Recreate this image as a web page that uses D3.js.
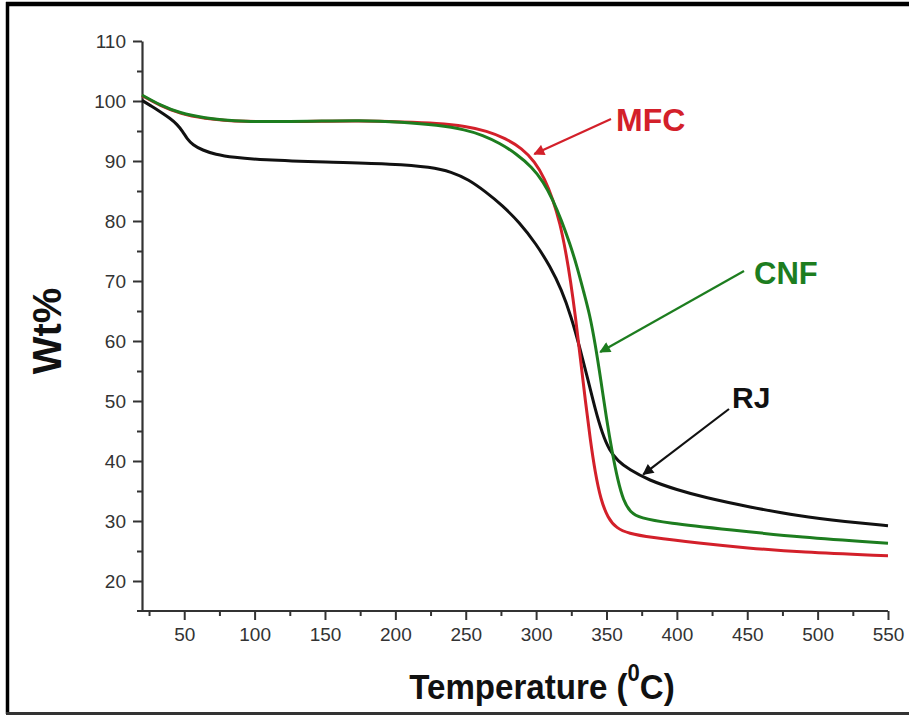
<!DOCTYPE html>
<html>
<head>
<meta charset="utf-8">
<script src="https://cdn.jsdelivr.net/npm/d3@7"></script>
<style>
  body { margin: 0; background: #fff; }
  svg { display: block; }
</style>
</head>
<body>
<div id="chart"></div>
<script>
// TGA curves: temperature (°C) vs residual weight (%)
var rjData = [
  [20, 100.1], [27, 99.1], [33, 98.2], [40, 97.1], [45, 96.1], [49, 94.9], [52, 93.7],
  [56, 92.7], [63, 91.8], [72, 91.1], [85, 90.6], [104, 90.2], [150, 89.8],
  [200, 89.5], [225, 89], [240, 88.2], [252, 86.9], [264, 84.9], [276, 82.6],
  [288, 79.8], [300, 76.2], [310, 72.4], [318, 68.6], [325, 64], [331, 58.9],
  [337, 53.4], [342, 48.6], [347, 44.6], [352, 41.8], [358, 40], [366, 38.6],
  [380, 36.8], [400, 35.2], [420, 33.9], [450, 32.4], [487, 30.8], [520, 29.9], [550, 29.2]
];
var mfcData = [
  [20, 100.9], [33, 99.2], [47, 97.9], [63, 97.1], [90, 96.5], [140, 96.6], [175, 96.7],
  [205, 96.5], [230, 96.3], [250, 95.8], [265, 95], [278, 93.8], [290, 92.1],
  [299, 89.9], [306, 87.1], [312, 83.6], [317, 79.6], [321, 75], [324.5, 70],
  [328, 64], [331.5, 57], [335, 50], [338.5, 43.5], [342, 38], [346, 33.5],
  [351, 30.5], [357, 28.8], [366, 27.9], [380, 27.3], [416, 26.3], [450, 25.5],
  [487, 24.8], [550, 24.2]
];
var cnfData = [
  [20, 101], [33, 99.3], [47, 98], [63, 97.2], [90, 96.5], [140, 96.6], [175, 96.8],
  [205, 96.5], [230, 96], [250, 95.2], [262, 94.3], [274, 93], [286, 91.2],
  [297, 89], [305, 86.6], [312, 83.5], [318, 80.1], [324, 76.2], [329, 72.5],
  [334, 68], [338, 64.5], [342, 59.5], [346, 53.5], [350, 47], [354, 41.5],
  [358, 36.8], [362, 33.4], [367, 31.4], [374, 30.5], [392, 29.7], [439, 28.5],
  [487, 27.3], [550, 26.3]
];

var xTicks = [50, 100, 150, 200, 250, 300, 350, 400, 450, 500, 550];
var xMinor = [25, 75, 125, 175, 225, 275, 325, 375, 425, 475, 525];
var yTicks = [20, 30, 40, 50, 60, 70, 80, 90, 100, 110];
var yMinor = [25, 35, 45, 55, 65, 75, 85, 95, 105];

var width = 909, height = 715;

var x = d3.scaleLinear().domain([20, 550]).range([142, 888]);
var y = d3.scaleLinear().domain([15, 110]).range([611, 41]);

var svg = d3.select("#chart").append("svg")
  .attr("width", width)
  .attr("height", height);

svg.append("rect").attr("width", width).attr("height", height).attr("fill", "#fff");

// frame
svg.append("line").attr("x1", 6).attr("x2", width).attr("y1", 4).attr("y2", 4)
  .attr("stroke", "#000").attr("stroke-width", 4.5);
svg.append("line").attr("x1", 7.5).attr("x2", 7.5).attr("y1", 2).attr("y2", 714)
  .attr("stroke", "#000").attr("stroke-width", 3.5);
svg.append("line").attr("x1", 6).attr("x2", width).attr("y1", 713.5).attr("y2", 713.5)
  .attr("stroke", "#333").attr("stroke-width", 3);

var font = "Liberation Sans, Arial, Helvetica, sans-serif";
var axisColor = "#333";

// minor ticks first, majors on top
svg.append("g")
  .attr("transform", "translate(0," + y(15) + ")")
  .call(d3.axisBottom(x).tickValues(xMinor).tickSize(5).tickFormat(""))
  .call(function (g) { g.select(".domain").remove(); });
svg.append("g")
  .attr("transform", "translate(" + x(20) + ",0)")
  .call(d3.axisLeft(y).tickValues(yMinor).tickSize(5).tickFormat(""))
  .call(function (g) { g.select(".domain").remove(); });

var xAxis = svg.append("g")
  .attr("transform", "translate(0," + y(15) + ")")
  .call(d3.axisBottom(x).tickValues(xTicks).tickSize(9).tickPadding(8).tickSizeOuter(0));
var yAxis = svg.append("g")
  .attr("transform", "translate(" + x(20) + ",0)")
  .call(d3.axisLeft(y).tickValues(yTicks).tickSize(9).tickPadding(7).tickSizeOuter(0));

svg.selectAll(".tick line").attr("stroke", axisColor).attr("stroke-width", 2);
[xAxis, yAxis].forEach(function (a) {
  a.select(".domain").attr("stroke", axisColor).attr("stroke-width", 2.2);
  a.selectAll(".tick text")
    .attr("font-family", font)
    .attr("font-size", 19)
    .attr("fill", "#333");
});
xAxis.select(".domain").attr("d", "M" + (x(20) - 5) + ",0H" + x(550));

// curves
var line = d3.line()
  .x(function (d) { return x(d[0]); })
  .y(function (d) { return y(d[1]); })
  .curve(d3.curveBasis);

var series = [
  { data: rjData, color: "#111" },
  { data: mfcData, color: "#d3202a" },
  { data: cnfData, color: "#1d7d1f" }
];
svg.selectAll("path.curve")
  .data(series)
  .enter().append("path")
  .attr("class", "curve")
  .attr("d", function (d) { return line(d.data); })
  .attr("fill", "none")
  .attr("stroke", function (d) { return d.color; })
  .attr("stroke-width", 3)
  .attr("stroke-linejoin", "round");

// annotation arrows
var defs = svg.append("defs");
function marker(id, color) {
  defs.append("marker")
    .attr("id", id)
    .attr("viewBox", "0 0 10 10")
    .attr("refX", 9).attr("refY", 5)
    .attr("markerWidth", 6).attr("markerHeight", 5)
    .attr("markerUnits", "strokeWidth")
    .attr("orient", "auto")
    .append("path").attr("d", "M0,0L10,5L0,10Z").attr("fill", color);
}

var notes = [
  { text: "MFC", color: "#d3202a", size: 32, tx: 616, ty: 131, from: [611, 119], to: [296.6, 91] },
  { text: "CNF", color: "#1d7d1f", size: 31, tx: 754, ty: 284, from: [744, 271], to: [343.4, 58] },
  { text: "RJ", color: "#111", size: 30, tx: 732, ty: 408, from: [729, 409], to: [374, 37.6] }
];
notes.forEach(function (n, i) {
  marker("ah" + i, n.color);
  svg.append("line")
    .attr("x1", n.from[0]).attr("y1", n.from[1])
    .attr("x2", x(n.to[0]) + 3).attr("y2", y(n.to[1]) - 1)
    .attr("stroke", n.color)
    .attr("stroke-width", 2.2)
    .attr("marker-end", "url(#ah" + i + ")");
  svg.append("text")
    .attr("x", n.tx).attr("y", n.ty)
    .attr("font-family", font)
    .attr("font-weight", "bold")
    .attr("font-size", n.size)
    .attr("fill", n.color)
    .text(n.text);
});

// axis titles
svg.append("text")
  .attr("transform", "translate(61,331) rotate(-90)")
  .attr("text-anchor", "middle")
  .attr("font-family", font)
  .attr("font-weight", "bold")
  .attr("font-size", 40)
  .attr("fill", "#111")
  .text("Wt%");

var xt = svg.append("g").attr("transform", "translate(542,699) scale(0.92,1)")
  .append("text")
  .attr("text-anchor", "middle")
  .attr("font-family", font)
  .attr("font-weight", "bold")
  .attr("font-size", 36)
  .attr("fill", "#111");
xt.append("tspan").text("Temperature (");
xt.append("tspan").attr("font-size", 24).attr("dy", -18).text("0");
xt.append("tspan").attr("dy", 18).text("C)");
</script>
</body>
</html>
